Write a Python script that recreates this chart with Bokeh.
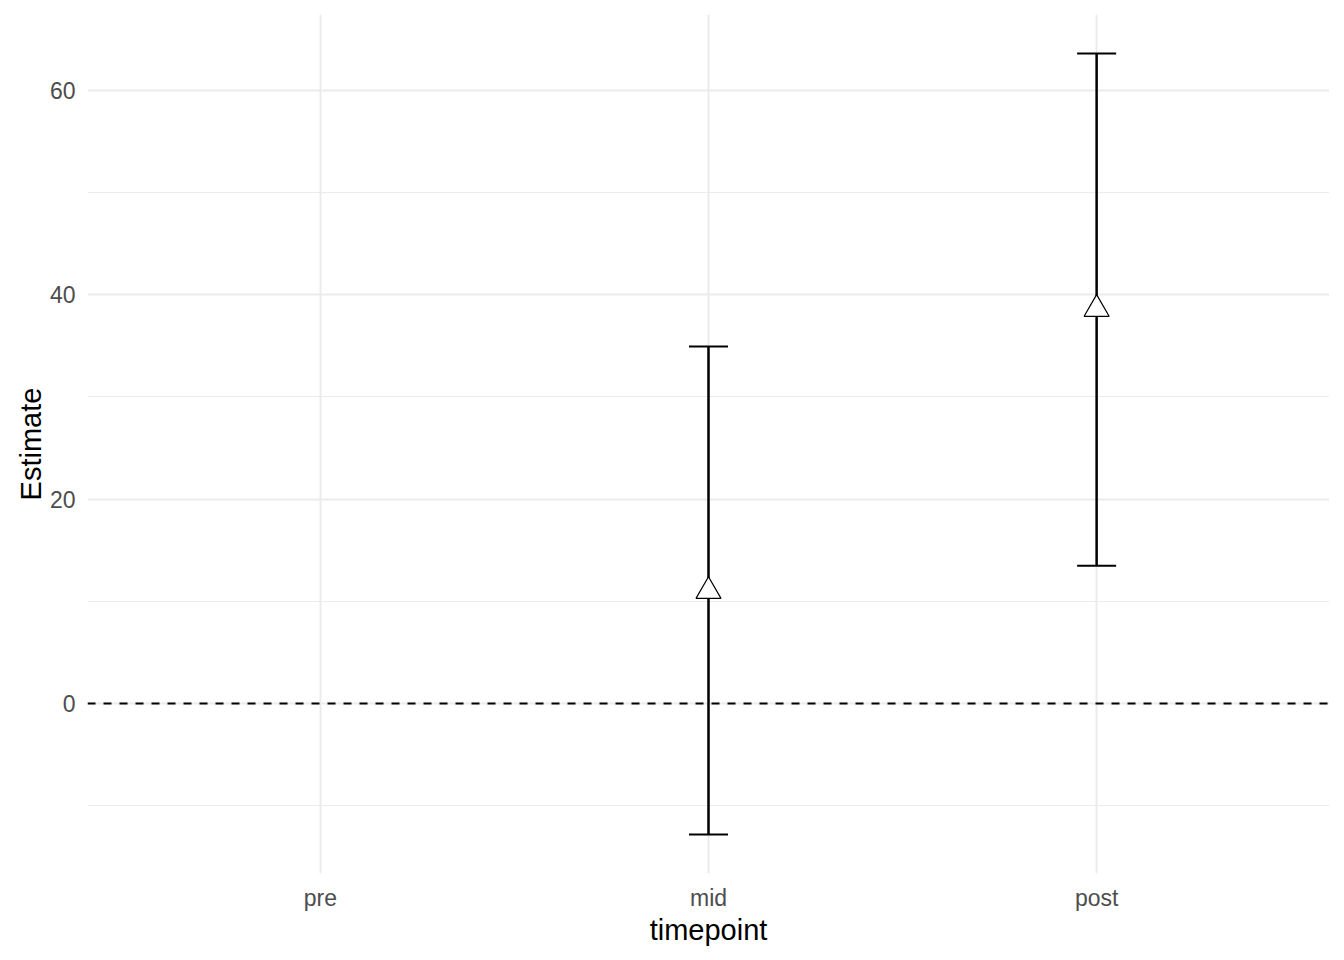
from bokeh.plotting import figure
from bokeh.models import FactorRange, Range1d, FixedTicker, Span, ColumnDataSource, Whisker
from bokeh.embed import file_html
from bokeh.resources import INLINE

timepoints = ["pre", "mid", "post"]
est_time = ["mid", "post"]
estimates = [11.0, 38.6]
lower = [-12.8, 13.5]
upper = [34.95, 63.6]
y_major = [0, 20, 40, 60]
y_minor = [-10, 10, 30, 50]

src = ColumnDataSource(dict(x=est_time, est=estimates, lo=lower, hi=upper))

p = figure(x_range=FactorRange(factors=timepoints, range_padding=0.1, range_padding_units="absolute"),
           y_range=Range1d(-16.62, 67.42),
           frame_width=1242, frame_height=859,
           min_border_left=87, min_border_right=0, min_border_top=14, min_border_bottom=72,
           output_backend="svg", toolbar_location=None)
p.outline_line_color = None
p.background_fill_color = "white"
p.border_fill_color = "white"

for ax in (p.xaxis[0], p.yaxis[0]):
    ax.axis_line_color = None
    ax.major_tick_line_color = None
    ax.minor_tick_line_color = None
    ax.major_label_text_font = "Liberation Sans"
    ax.major_label_text_font_size = "23px"
    ax.major_label_text_color = "#4d4d4d"
    ax.axis_label_text_font = "Liberation Sans"
    ax.axis_label_text_font_size = "29px"
    ax.axis_label_text_font_style = "normal"
    ax.axis_label_text_color = "black"

p.xaxis.axis_label = "timepoint"
p.yaxis.axis_label = "Estimate"
p.xaxis.major_label_standoff = 5
p.yaxis.major_label_standoff = 6
p.xaxis.axis_label_standoff = 0
p.yaxis.axis_label_standoff = 0

p.yaxis.ticker = FixedTicker(ticks=y_major, minor_ticks=y_minor)
p.ygrid.ticker = FixedTicker(ticks=y_major, minor_ticks=y_minor)
p.ygrid.grid_line_color = "#ebebeb"
p.ygrid.grid_line_width = 2
p.ygrid.minor_grid_line_color = "#ebebeb"
p.ygrid.minor_grid_line_width = 1
p.xgrid.grid_line_color = "#ebebeb"
p.xgrid.grid_line_width = 2

p.add_layout(Span(location=0, dimension="width", line_color="black",
                  line_width=2, line_dash="8 8"))

p.segment(x0="x", y0="lo", x1="x", y1="hi", source=src, line_color="black", line_width=2)
w = Whisker(base="x", lower="lo", upper="hi", source=src, dimension="height",
            line_color="black", line_width=2)
w.upper_head.size = 39
w.lower_head.size = 39
w.upper_head.line_width = 2
w.lower_head.line_width = 2
w.upper_head.line_color = "black"
w.lower_head.line_color = "black"
p.add_layout(w)

p.scatter(x="x", y="est", source=src, marker="triangle", size=25,
          fill_color="white", line_color="black", line_width=1.2)

open("out.html", "w").write(file_html(p, INLINE))
